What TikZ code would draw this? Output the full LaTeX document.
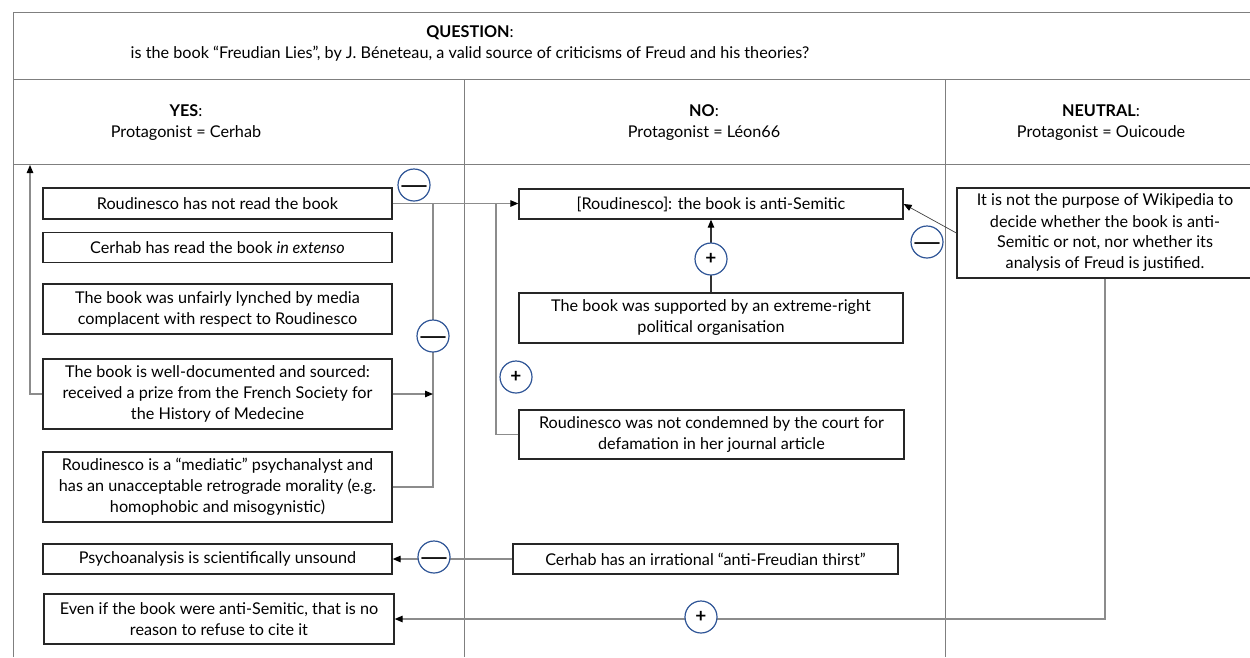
\documentclass[tikz,border=0pt]{standalone}
\usepackage{fontspec}
\usepackage{graphicx}
\setmainfont{Lato}
\usetikzlibrary{arrows.meta}
\definecolor{circblue}{HTML}{2F5597}
\definecolor{tabgray}{HTML}{7F7F7F}
\definecolor{conngray}{HTML}{8C8C8C}
\newcommand{\bodyfont}{\fontsize{16.2}{21}\selectfont}
\newcommand{\longminus}{\raisebox{-9pt}{\scalebox{1.4}[1]{—}}}
\tikzset{
  tabline/.style={draw=tabgray, line width=1pt},
  argbox/.style={draw=black!85, line width=1.3pt, align=center, inner sep=0pt, font=\bodyfont},
  hdr/.style={align=center, inner sep=0pt, font=\bodyfont},
  conn/.style={draw=conngray, line width=1.2pt},
  tip/.style={-{Triangle[length=8pt,width=6.5pt,color=black]}},
  circ/.style={circle, draw=circblue, line width=1.2pt, fill=white, minimum size=32pt, inner sep=0pt},
  minussign/.style={circ, font=\fontsize{27}{27}\selectfont, text height=0pt, text depth=0pt},
  plussign/.style={circ, font=\fontsize{19}{19}\selectfont\bfseries},
}
\begin{document}
\begin{tikzpicture}[x=1pt,y=-1pt]
\useasboundingbox (0,0) rectangle (1250,657);
% table
\draw[tabline] (13,657) -- (13,12) -- (1260,12);
\draw[tabline] (13,79) -- (1260,79);
\draw[tabline] (13,164) -- (1260,164);
\draw[tabline] (464,79) -- (464,657);
\draw[tabline] (945,79) -- (945,657);
% headers
\node[hdr] (q) at (470,43) {\textbf{QUESTION}:\\is the book “Freudian Lies”, by J. Béneteau, a valid source of criticisms of Freud and his theories?};
\node[hdr] (hyes) at (186,122.5) {\textbf{YES}:\\Protagonist = Cerhab};
\node[hdr] (hno) at (704,122.5) {\textbf{NO}:\\Protagonist = Léon66};
\node[hdr] (hneu) at (1101,122.5) {\textbf{NEUTRAL}:\\Protagonist = Ouicoude};
% argument boxes
\node[argbox, minimum width=349pt, minimum height=31pt] (n1) at (217.5,203.5) {Roudinesco has not read the book};
\node[argbox, minimum width=349pt, minimum height=30pt] (n2) at (217.5,247.5) {Cerhab has read the book \textit{in extenso}};
\node[argbox, minimum width=349pt, minimum height=50pt] (n3) at (217.5,309) {The book was unfairly lynched by media\\complacent with respect to Roudinesco};
\node[argbox, minimum width=349pt, minimum height=70pt] (n4) at (217.5,394) {The book is well-documented and sourced:\\received a prize from the French Society for\\the History of Medecine};
\node[argbox, minimum width=349pt, minimum height=70pt] (n5) at (217.5,487) {Roudinesco is a “mediatic” psychanalyst and\\has an unacceptable retrograde morality (e.g.\\homophobic and misogynistic)};
\node[argbox, minimum width=349pt, minimum height=30pt] (n6) at (217.5,559) {Psychoanalysis is scientifically unsound};
\node[argbox, minimum width=350pt, minimum height=50pt] (n7) at (219,619) {Even if the book were anti-Semitic, that is no\\reason to refuse to cite it};
\node[argbox, minimum width=384pt, minimum height=30pt] (n8) at (711,204) {[Roudinesco]: the book is anti-Semitic};
\node[argbox, minimum width=384pt, minimum height=50pt] (n9) at (711,318) {The book was supported by an extreme-right\\political organisation};
\node[argbox, minimum width=385pt, minimum height=49pt] (n10) at (711.5,434.5) {Roudinesco was not condemned by the court for\\defamation in her journal article};
\node[argbox, minimum width=385pt, minimum height=30pt] (n11) at (705.5,559) {Cerhab has an irrational “anti-Freudian thirst”};
\node[argbox, minimum width=296pt, minimum height=90pt] (n12) at (1105,233) {It is not the purpose of Wikipedia to\\decide whether the book is anti-\\Semitic or not, nor whether its\\analysis of Freud is justified.};
% helper coordinates
\coordinate (cx1) at (433,0);
\coordinate (cx2) at (496,0);
\coordinate (cx3) at (30,0);
\coordinate (yestop) at (30,165);
% connectors
\draw[conn] (n5.east) -- (n5.east -| cx1) -- (n1.east -| cx1);
\draw[conn,tip] (n4.east) -- (n4.east -| cx1);
\draw[conn] (n10.west) -- (n10.west -| cx2) -- (n1.east -| cx2);
\draw[conn,tip] (n1.east) -- (n1.east -| n8.west);
\draw[conn,tip] (n4.west) -- (n4.west -| cx3) -- (yestop);
\draw[draw=black!80, line width=1.1pt,tip] (n9.north) -- (n8.south);
\draw[draw=black!75, line width=0.7pt,tip] (n12.west) -- (n8.east);
\draw[conn,tip] (n12.south) |- (n7.east);
\draw[conn,tip] (n11.west) -- (n6.east);
% signs
\node[minussign] (s1) at (414,185) {\longminus};
\node[minussign] (s2) at (433,336) {\longminus};
\node[plussign] (s3) at (516,377) {+};
\node[plussign] (s4) at (711,259) {+};
\node[minussign] (s5) at (927,242) {\longminus};
\node[minussign] (s6) at (434,557) {\longminus};
\node[plussign] (s7) at (701,617) {+};
\end{tikzpicture}
\end{document}
